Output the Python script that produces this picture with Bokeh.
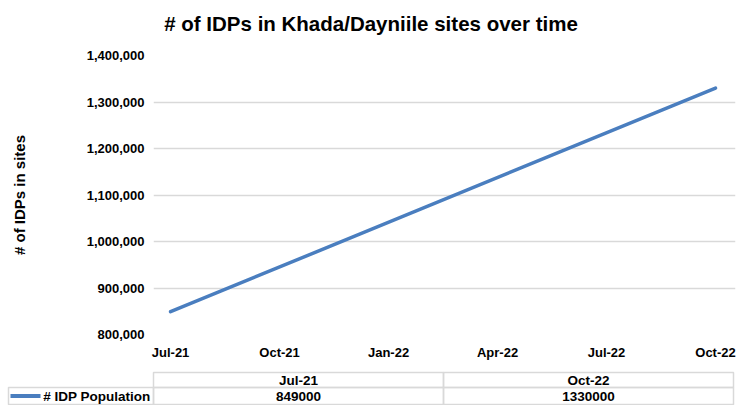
from datetime import datetime
from bokeh.plotting import figure
from bokeh.layouts import column
from bokeh.models import Range1d, FixedTicker, NumeralTickFormatter
from bokeh.core.properties import value
from bokeh.embed import file_html
from bokeh.resources import INLINE

# ---- data ----
dates = ["Jul-21", "Oct-22"]
idp_population = [849000, 1330000]
x_tick_labels = ["Jul-21", "Oct-21", "Jan-22", "Apr-22", "Jul-22", "Oct-22"]
y_ticks = [800000, 900000, 1000000, 1100000, 1200000, 1300000, 1400000]
series_name = "# IDP Population"
title_text = "# of IDPs in Khada/Dayniile sites over time"
y_label = "# of IDPs in sites"

FONT = "Liberation Sans"
LINE_COLOR = "#4a7ebf"
GRID_COLOR = "#d9d9d9"

def month_index(lbl, base):
    d = datetime.strptime(lbl, "%b-%y")
    b = datetime.strptime(base, "%b-%y")
    return (d.year - b.year) * 12 + (d.month - b.month)

base = x_tick_labels[0]
x_vals = [month_index(d, base) for d in dates]
tick_pos = [month_index(t, base) for t in x_tick_labels]

W = 737
HH = 40   # title strip
PH = 328  # chart
TH = 37   # data table


def strip(h):
    f = figure(width=W, height=h, output_backend="svg", toolbar_location=None,
               x_range=Range1d(0, W), y_range=Range1d(0, h),
               min_border=0, min_border_left=0, min_border_right=0,
               min_border_top=0, min_border_bottom=0)
    f.axis.visible = False
    f.grid.visible = False
    f.outline_line_color = None
    return f

# ---- title strip ----
tt = strip(HH)
tt.text(x=[370.5], y=[HH - 23], text=[title_text],
        text_font=value(FONT), text_font_size="20.5px", text_font_style="bold",
        text_align="center", text_baseline="middle", text_color="#000000")

# ---- main chart ----
p = figure(width=W, height=PH, output_backend="svg", toolbar_location=None,
           x_range=Range1d(-0.47, 15.55), y_range=Range1d(800000, 1400000),
           min_border_left=153, min_border_right=2, min_border_top=15, min_border_bottom=34)
p.outline_line_color = None
p.background_fill_color = "white"
p.border_fill_color = "white"

p.line(x_vals, idp_population, line_color=LINE_COLOR, line_width=3.5, line_cap="round")

p.xaxis.ticker = FixedTicker(ticks=tick_pos)
p.xaxis.major_label_overrides = {t: l for t, l in zip(tick_pos, x_tick_labels)}
p.yaxis.ticker = FixedTicker(ticks=y_ticks)
p.yaxis.formatter = NumeralTickFormatter(format="0,0")

for ax in (p.xaxis, p.yaxis):
    ax.axis_line_color = None
    ax.major_tick_line_color = None
    ax.minor_tick_line_color = None
    ax.major_tick_out = 0
    ax.major_tick_in = 0
    ax.major_label_text_font = FONT
    ax.major_label_text_font_size = "13px"
    ax.major_label_text_font_style = "bold"
    ax.major_label_text_color = "#000000"
p.xaxis.major_label_standoff = 10
p.yaxis.major_label_standoff = 9
p.yaxis.axis_label = y_label
p.yaxis.axis_label_text_font = FONT
p.yaxis.axis_label_text_font_size = "15px"
p.yaxis.axis_label_text_font_style = "bold"
p.yaxis.axis_label_text_color = "#000000"
p.yaxis.axis_label_standoff = 56

p.xgrid.grid_line_color = None
p.ygrid.grid_line_color = GRID_COLOR
p.ygrid.grid_line_width = 1.5

# ---- data table below ----
t = strip(TH)

for fig in (tt, p, t):
    try:
        fig.frame_align = False
    except Exception:
        pass

tx0, tx1, leg_x0 = 153, 733, 8
r_top, r_mid, r_bot = 33, 18, 1
n = len(dates)
cw = (tx1 - tx0) / n
lefts = [tx0 + i * cw for i in range(n)]
rights = [l + cw for l in lefts]
centers = [l + cw / 2 for l in lefts]

t.quad(left=lefts, right=rights, top=[r_top] * n, bottom=[r_mid] * n,
       fill_color=None, line_color=GRID_COLOR, line_width=1.5)
t.quad(left=[leg_x0] + lefts, right=[tx0] + rights, top=[r_mid] * (n + 1), bottom=[r_bot] * (n + 1),
       fill_color=None, line_color=GRID_COLOR, line_width=1.5)

t.text(x=centers, y=[(r_top + r_mid) / 2] * n, text=dates,
       text_font=value(FONT), text_font_size="13.5px", text_font_style="bold",
       text_align="center", text_baseline="middle", text_color="#000000")
t.text(x=centers, y=[(r_mid + r_bot) / 2] * n, text=[str(v) for v in idp_population],
       text_font=value(FONT), text_font_size="13.5px", text_font_style="bold",
       text_align="center", text_baseline="middle", text_color="#000000")
t.line(x=[leg_x0 + 2, leg_x0 + 32], y=[(r_mid + r_bot) / 2] * 2, line_color=LINE_COLOR, line_width=4)
t.text(x=[tx0 - 3], y=[(r_mid + r_bot) / 2], text=[series_name],
       text_font=value(FONT), text_font_size="13.5px", text_font_style="bold",
       text_align="right", text_baseline="middle", text_color="#000000")

layout = column(tt, p, t, spacing=0)
open("out.html", "w").write(file_html(layout, INLINE))
